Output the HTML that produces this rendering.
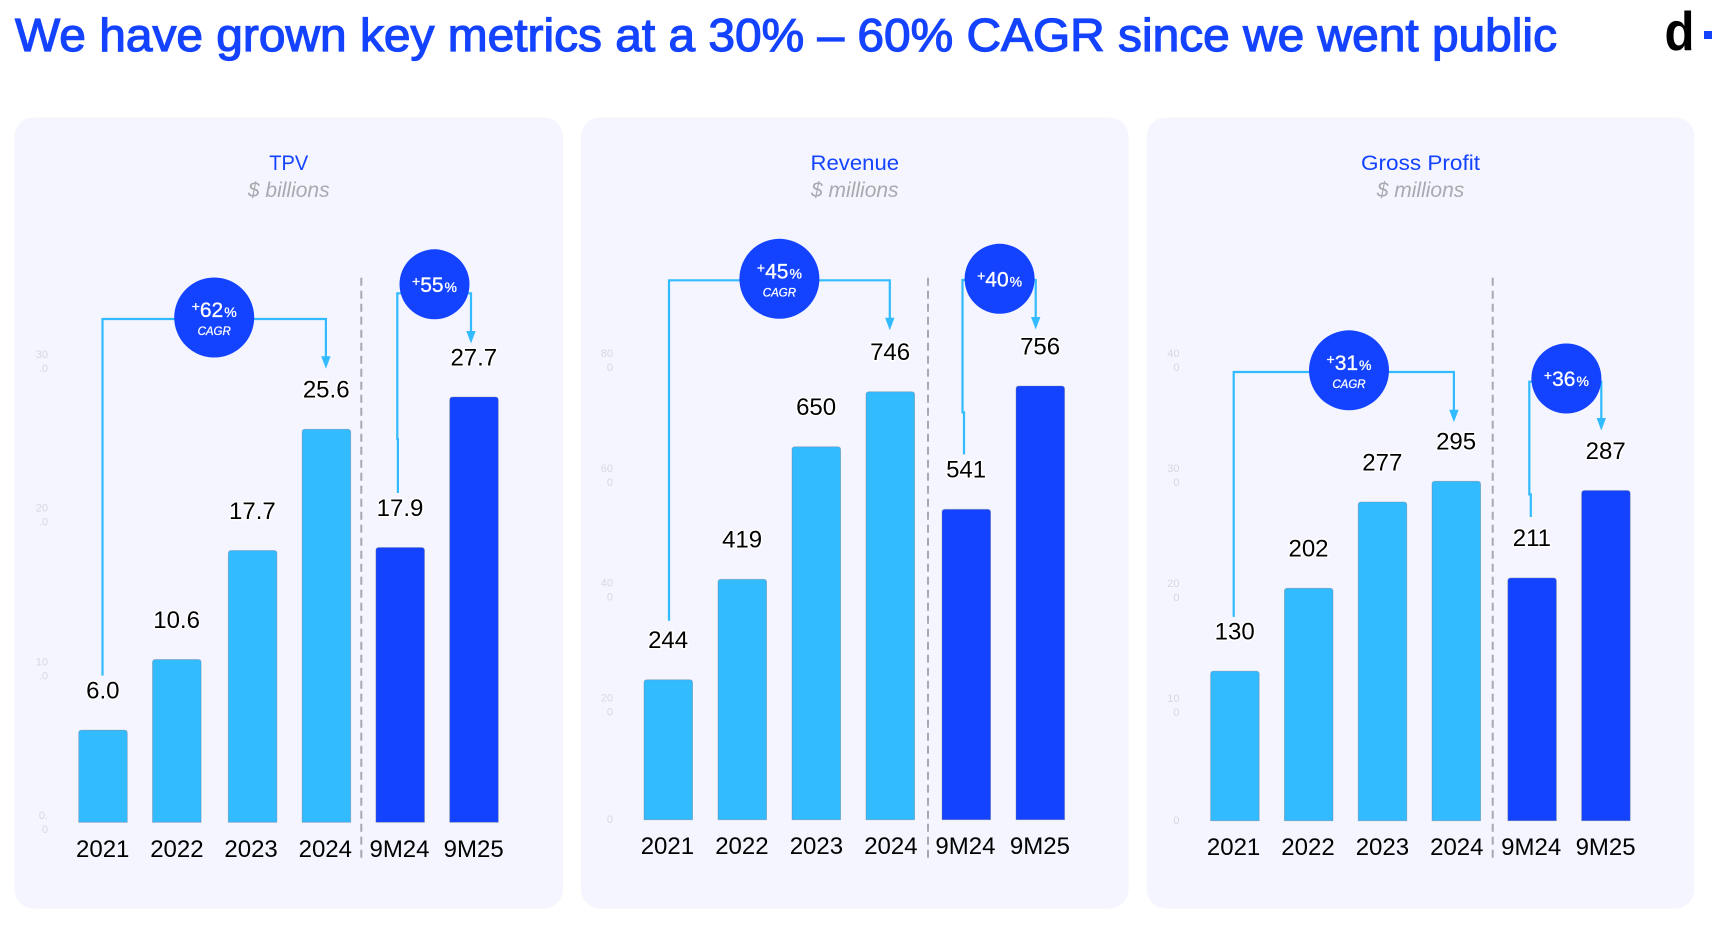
<!DOCTYPE html>
<html lang="en">
<head>
<meta charset="utf-8">
<title>Key metrics CAGR</title>
<style>
html,body{margin:0;padding:0;background:#fff;width:1714px;height:926px;overflow:hidden;}
svg{display:block;font-family:"Liberation Sans",sans-serif;}
</style>
</head>
<body>
<svg id="stage" xmlns="http://www.w3.org/2000/svg" width="1714" height="926" viewBox="0 0 1714 926">
  <rect x="0" y="0" width="1714" height="926" fill="#ffffff"/>
  <text x="15" y="51" font-size="46" fill="#1443ff" stroke="#1443ff" stroke-width="1.2" textLength="1542" lengthAdjust="spacingAndGlyphs">We have grown key metrics at a 30% – 60% CAGR since we went public</text>
  <text x="1664.5" y="50" font-size="55" font-weight="700" fill="#000000" textLength="30" lengthAdjust="spacingAndGlyphs">d</text>
  <rect x="1704" y="31" width="8" height="8" fill="#1443ff"/>
  <g id="charts"></g>
</svg>
<script>
const categories = ['2021', '2022', '2023', '2024', '9M24', '9M25'];

const tpvValues = [6.0, 10.6, 17.7, 25.6, 17.9, 27.7];
const tpvLabels = ['6.0', '10.6', '17.7', '25.6', '17.9', '27.7'];
const tpvTicks = [0, 10, 20, 30];
const tpvTickLabels = ['0.0', '10.0', '20.0', '30.0'];

const revenueValues = [244, 419, 650, 746, 541, 756];
const revenueLabels = ['244', '419', '650', '746', '541', '756'];
const revenueTicks = [0, 200, 400, 600, 800];
const revenueTickLabels = ['0', '200', '400', '600', '800'];

const grossProfitValues = [130, 202, 277, 295, 211, 287];
const grossProfitLabels = ['130', '202', '277', '295', '211', '287'];
const grossProfitTicks = [0, 100, 200, 300, 400];
const grossProfitTickLabels = ['0', '100', '200', '300', '400'];

const tpvGrowth = ['62', '55'];
const revenueGrowth = ['45', '40'];
const grossProfitGrowth = ['31', '36'];

const LIGHT = '#33bbff', DARK = '#1443ff';
const NS = 'http://www.w3.org/2000/svg';

const panels = [
  { key: 'tpv', title: 'TPV', titleLen: 39, unit: '$ billions', values: tpvValues, labels: tpvLabels, ticks: tpvTicks, tickLabels: tpvTickLabels, growth: tpvGrowth,
    px: 14.5, pw: 548.5, base: 822.3, pxPerUnit: 15.354, barX0: 78.7, step: 73.8, gapAt: 2, gapW: 2, lblX0: 102.7, lblStep: 74.2, catY: 857, tickX: 48, divX: 361.3,
    cagr: { cx: 214.2, cy: 317.5, rail: 319, startOff: 55, endOff: 61, jog: 0, jogRise: 40, startDx: -0.5, endDx: -0.5 },
    nine: { cx: 434.5, cy: 284.3, rail: 293.3, startOff: 55, endOff: 54, lineX: 397.3, jog: 0.6, jogRise: 54, endDx: -3 } },
  { key: 'revenue', title: 'Revenue', titleLen: 88.5, unit: '$ millions', values: revenueValues, labels: revenueLabels, ticks: revenueTicks, tickLabels: revenueTickLabels, growth: revenueGrowth,
    px: 581, pw: 547.6, base: 819.7, pxPerUnit: 0.5737, barX0: 644, step: 74, gapAt: 4, gapW: 2, lblX0: 667.4, lblStep: 74.5, catY: 854, tickX: 613, divX: 928,
    cagr: { cx: 779.4, cy: 278.8, rail: 280.3, startOff: 59.5, endOff: 62, jog: 0, jogRise: 40, startDx: 0.7, endDx: -0.5 },
    nine: { cx: 999.6, cy: 278.8, rail: 280, startOff: 55.5, endOff: 57, lineX: 962.5, jog: 1.5, jogRise: 42, endDx: -4.6 } },
  { key: 'gross-profit', title: 'Gross Profit', titleLen: 119, unit: '$ millions', values: grossProfitValues, labels: grossProfitLabels, ticks: grossProfitTicks, tickLabels: grossProfitTickLabels, growth: grossProfitGrowth,
    px: 1146.7, pw: 547.6, base: 820.7, pxPerUnit: 1.1505, barX0: 1210.6, step: 73.8, gapAt: 4, gapW: 2, lblX0: 1233.6, lblStep: 74.4, catY: 855, tickX: 1179.5, divX: 1492.7,
    cagr: { cx: 1349, cy: 370.3, rail: 372, startOff: 54.7, endOff: 59.5, jog: 0, jogRise: 40, startDx: -1.2, endDx: -2.4 },
    nine: { cx: 1566.4, cy: 378.5, rail: 381.7, startOff: 61.5, endOff: 60.5, lineX: 1529.3, jog: 1.5, jogRise: 22.6, endDx: -4.6 } }
];

const BAR_W = 48.6;
const root = document.getElementById('charts');

function mk(tag, attrs, parent) {
  const e = document.createElementNS(NS, tag);
  for (const k in attrs) e.setAttribute(k, attrs[k]);
  parent.appendChild(e);
  return e;
}

function drawPanel(p) {
  const yScale = v => p.base - v * p.pxPerUnit;
  const barX = i => p.barX0 + i * p.step + (i >= p.gapAt ? p.gapW : 0);
  const barCenter = i => barX(i) + BAR_W / 2;
  const labelY = i => yScale(p.values[i]) - 39.5;

  const g = mk('g', {}, root);
  
  

  const bg = mk('rect', { x: p.px, y: 117.5, width: p.pw, height: 791, rx: 19, ry: 19, fill: '#f4f5fe' }, g);
  
  

  const midX = p.px + p.pw / 2;
  const title = mk('text', { x: midX, y: 170, 'font-size': 21, 'text-anchor': 'middle', fill: DARK, textLength: p.titleLen, lengthAdjust: 'spacingAndGlyphs' }, g);
  title.textContent = p.title;
  
  

  const unit = mk('text', { x: midX, y: 197, 'font-size': 21, 'font-style': 'italic', 'text-anchor': 'middle', fill: '#a9a9ae' }, g);
  unit.textContent = p.unit;
  
  

  p.ticks.forEach((t, i) => {
    const s = p.tickLabels[i];
    const yc = yScale(t) - 0.5;
    const parts = s.length > 2 ? [s.slice(0, 2), s.slice(2)] : [s];
    parts.forEach((part, j) => {
      const ly = parts.length === 2 ? yc + (j === 0 ? -3 : 11) : yc + 4;
      const tick = mk('text', { x: p.tickX, y: ly, 'font-size': 11, 'text-anchor': 'end', fill: '#d6d7e0' }, g);
      tick.textContent = part;
      
      
    });
  });

  p.values.forEach((v, i) => {
    const x = barX(i), top = yScale(v), r = 3;
    const d = 'M' + x + ' ' + p.base + 'V' + (top + r) + 'Q' + x + ' ' + top + ' ' + (x + r) + ' ' + top +
      'H' + (x + BAR_W - r) + 'Q' + (x + BAR_W) + ' ' + top + ' ' + (x + BAR_W) + ' ' + (top + r) + 'V' + p.base + 'Z';
    const bar = mk('path', { d: d, fill: i < 4 ? LIGHT : DARK, stroke: 'rgba(110,120,140,0.45)', 'stroke-width': 0.8 }, g);
    
    

    const val = mk('text', { x: barCenter(i) - 0.2, y: labelY(i) + 7.8, 'font-size': 24, 'text-anchor': 'middle', fill: '#000000', stroke: '#ffffff', 'stroke-width': 3, 'stroke-linejoin': 'round', 'paint-order': 'stroke' }, g);
    val.textContent = p.labels[i];
    
    

    const cat = mk('text', { x: p.lblX0 + i * p.lblStep, y: p.catY, 'font-size': 24, 'text-anchor': 'middle', fill: '#000000' }, g);
    cat.textContent = categories[i];
    
    
  });

  const div = mk('line', { x1: p.divX, x2: p.divX, y1: 277.7, y2: 860, stroke: '#a8a8ae', 'stroke-width': 2, 'stroke-dasharray': '8 5' }, g);
  
  

  function connector(name, startX, startY, jog, jogRise, railY, endX, tipY) {
    const jogY = startY - jogRise;
    const d = 'M' + (startX + jog) + ' ' + startY + 'V' + jogY + 'H' + startX + 'V' + railY + 'H' + endX + 'V' + (tipY - 10);
    const line = mk('path', { d: d, fill: 'none', stroke: LIGHT, 'stroke-width': 2.2 }, g);
    
    
    const head = mk('path', { d: 'M' + (endX - 4.7) + ' ' + (tipY - 12.5) + 'H' + (endX + 4.7) + 'L' + endX + ' ' + tipY + 'Z', fill: LIGHT }, g);
    
    
  }

  function bubble(name, cx, cy, r, pct, isCagr) {
    const c = mk('circle', { cx: cx, cy: cy, r: r, fill: DARK }, g);
    
    
    const base = isCagr ? cy - 0.5 : cy + 7.5;
    const t = mk('text', { x: cx, y: base, 'text-anchor': 'middle', fill: '#ffffff', stroke: '#ffffff', 'stroke-width': 0.3, 'font-size': 21 }, g);
    const plus = mk('tspan', { 'font-size': 14, dy: -6 }, t);
    plus.textContent = '+';
    const num = mk('tspan', { 'font-size': 21, dy: 6 }, t);
    num.textContent = pct;
    const sign = mk('tspan', { 'font-size': 14, dx: 1 }, t);
    sign.textContent = '%';
    
    
    if (isCagr) {
      const sub = mk('text', { x: cx, y: cy + 17.5, 'text-anchor': 'middle', fill: '#ffffff', stroke: '#ffffff', 'stroke-width': 0.25, 'font-size': 11.5, 'font-style': 'italic' }, g);
      sub.textContent = 'CAGR';
      
      
    }
  }

  connector(p.key + '-cagr', barCenter(0) + p.cagr.startDx, labelY(0) - p.cagr.startOff + 40, p.cagr.jog, p.cagr.jogRise, p.cagr.rail, barCenter(3) + p.cagr.endDx, labelY(3) - p.cagr.endOff + 40);
  connector(p.key + '-nine-month', p.nine.lineX, labelY(4) - p.nine.startOff + 40, p.nine.jog, p.nine.jogRise, p.nine.rail, barCenter(5) + p.nine.endDx, labelY(5) - p.nine.endOff + 40);
  bubble(p.key + '-cagr', p.cagr.cx, p.cagr.cy, 40, p.growth[0], true);
  bubble(p.key + '-nine-month', p.nine.cx, p.nine.cy, 35, p.growth[1], false);
}

panels.forEach(drawPanel);
</script>
</body>
</html>
